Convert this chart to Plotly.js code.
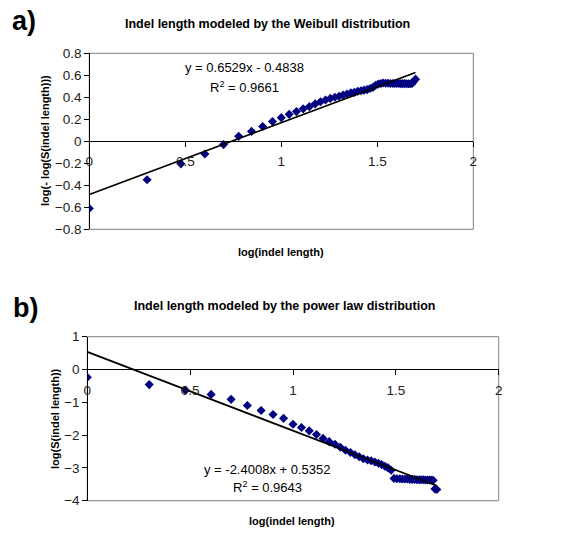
<!DOCTYPE html>
<html>
<head>
<meta charset="utf-8">
<script src="https://cdn.plot.ly/plotly-3.0.1.min.js"></script>
<style>html,body{margin:0;padding:0;background:#fff}#chart{width:561px;height:542px}</style>
</head>
<body>
<div id="chart"></div>
<script>
// log10 of indel length (1..50)
const logLength = [0, 0.301, 0.477, 0.602, 0.699, 0.778, 0.845, 0.903, 0.954, 1.000,
  1.041, 1.079, 1.114, 1.146, 1.176, 1.204, 1.230, 1.255, 1.279, 1.301,
  1.322, 1.342, 1.362, 1.380, 1.398, 1.415, 1.431, 1.447, 1.462, 1.477,
  1.491, 1.505, 1.519, 1.531, 1.544, 1.556, 1.568, 1.580, 1.591, 1.602,
  1.613, 1.623, 1.633, 1.643, 1.653, 1.663, 1.672, 1.681, 1.690, 1.699];

// a) log(-log(S(indel length)))
const weibullY = [-0.61, -0.35, -0.205, -0.115, -0.03, 0.045, 0.09, 0.135, 0.18, 0.215,
  0.245, 0.27, 0.295, 0.315, 0.34, 0.36, 0.375, 0.39, 0.40, 0.41,
  0.42, 0.43, 0.44, 0.445, 0.455, 0.46, 0.465, 0.47, 0.48, 0.49,
  0.51, 0.52, 0.525, 0.53, 0.528, 0.527, 0.526, 0.526, 0.525, 0.525,
  0.525, 0.524, 0.524, 0.524, 0.523, 0.523, 0.523, 0.525, 0.545, 0.565];

// b) log(S(indel length))
const powerY = [-0.24, -0.46, -0.63, -0.76, -0.91, -1.10, -1.25, -1.37, -1.49, -1.67,
  -1.77, -1.87, -1.98, -2.10, -2.20, -2.28, -2.37, -2.46, -2.53, -2.60,
  -2.66, -2.72, -2.76, -2.78, -2.82, -2.86, -2.90, -2.95, -3.00, -3.07,
  -3.32, -3.33, -3.33, -3.34, -3.34, -3.34, -3.35, -3.35, -3.35, -3.36,
  -3.36, -3.36, -3.36, -3.37, -3.37, -3.37, -3.37, -3.38, -3.64, -3.66];

const fitA = {slope: 0.6529, intercept: -0.4838, r2: '0.9661'};
const fitB = {slope: -2.4008, intercept: 0.5352, r2: '0.9643'};

const titleA = 'Indel length modeled by the Weibull distribution';
const titleB = 'Indel length modeled by the power law distribution';
const yTitleA = 'log(- log(S(indel length)))';
const yTitleB = 'log(S(indel length))';
const xTitle = 'log(indel length)';

const xFitEnds = [Math.min(...logLength), Math.max(...logLength)];
const navy = '#000080';
const font = 'Liberation Sans, Arial, sans-serif';

const traces = [
  {x: logLength, y: weibullY, xaxis: 'x', yaxis: 'y', mode: 'markers', type: 'scatter',
   marker: {symbol: 'diamond', size: 7, color: navy}},
  {x: xFitEnds, y: xFitEnds.map(v => fitA.slope * v + fitA.intercept), xaxis: 'x', yaxis: 'y',
   mode: 'lines', type: 'scatter', line: {color: '#000', width: 1.8}},
  {x: logLength, y: powerY, xaxis: 'x2', yaxis: 'y2', mode: 'markers', type: 'scatter',
   marker: {symbol: 'diamond', size: 7, color: navy}},
  {x: xFitEnds, y: xFitEnds.map(v => fitB.slope * v + fitB.intercept), xaxis: 'x2', yaxis: 'y2',
   mode: 'lines', type: 'scatter', line: {color: '#000', width: 1.8}}
];

const yA = [0.5769, 0.9017], yB = [0.0762, 0.3788];
const posZero = (dom, r) => dom[0] + (dom[1] - dom[0]) * (0 - r[0]) / (r[1] - r[0]);

const xCommon = {range: [0, 2], dtick: 0.5, tick0: 0, showgrid: false, zeroline: false,
  showline: true, linecolor: '#000', linewidth: 1, ticks: 'outside', ticklen: 5, tickcolor: '#000',
  ticklabelstandoff: 3, tickfont: {family: font, size: 13.5, color: '#222'}, anchor: 'free'};
const yCommon = {showgrid: false, zeroline: false, showline: true, linecolor: '#000', linewidth: 1,
  ticks: 'outside', ticklen: 5, tickcolor: '#000', tickfont: {family: font, size: 13.5, color: '#222'}};

const rA = [-0.8, 0.8], rB = [-4, 1];

const ann = (text, x, y, opts) => Object.assign({text, x, y, xref: 'paper', yref: 'paper',
  xanchor: 'center', yanchor: 'middle', showarrow: false,
  font: {family: font, size: 13, color: '#000'}}, opts || {});
const py = p => 1 - p / 542, px = p => p / 561;

const layout = {
  width: 561, height: 542, margin: {l: 0, r: 0, t: 0, b: 0},
  paper_bgcolor: '#fff', plot_bgcolor: '#fff', showlegend: false,
  xaxis: Object.assign({}, xCommon, {domain: [0.1592, 0.8437], position: posZero(yA, rA)}),
  yaxis: Object.assign({}, yCommon, {domain: yA, range: rA, dtick: 0.2, tick0: 0, anchor: 'free', position: 0.1592}),
  xaxis2: Object.assign({}, xCommon, {domain: [0.1556, 0.8890], position: posZero(yB, rB)}),
  yaxis2: Object.assign({}, yCommon, {domain: yB, range: rB, dtick: 1, tick0: 0, anchor: 'free', position: 0.1556}),
  shapes: [
    {type: 'rect', xref: 'x domain', yref: 'y domain', x0: 0, x1: 1, y0: 0, y1: 1, line: {color: '#808080', width: 1}, layer: 'below'},
    {type: 'rect', xref: 'x2 domain', yref: 'y2 domain', x0: 0, x1: 1, y0: 0, y1: 1, line: {color: '#808080', width: 1}, layer: 'below'}
  ],
  annotations: [
    ann('a)', px(24), py(21), {font: {family: font, size: 27, color: '#000', weight: 'bold'}}),
    ann('b)', px(25), py(308), {font: {family: font, size: 27, color: '#000', weight: 'bold'}}),
    ann('<b>' + titleA + '</b>', px(267), py(24), {font: {family: font, size: 12.5, color: '#000'}}),
    ann('<b>' + titleB + '</b>', px(284), py(306), {font: {family: font, size: 12.5, color: '#000'}}),
    ann('<b>' + yTitleA + '</b>', px(45), py(141), {textangle: -90, font: {family: font, size: 11, color: '#000'}}),
    ann('<b>' + yTitleB + '</b>', px(55), py(419), {textangle: -90, font: {family: font, size: 11, color: '#000'}}),
    ann('<b>' + xTitle + '</b>', px(281), py(252), {font: {family: font, size: 11, color: '#000'}}),
    ann('<b>' + xTitle + '</b>', px(292), py(521), {font: {family: font, size: 11, color: '#000'}}),
    ann('y = ' + fitA.slope + 'x - ' + Math.abs(fitA.intercept), px(244), py(67)),
    ann('R<sup>2</sup> = ' + fitA.r2, px(244), py(87)),
    ann('y = ' + fitB.slope + 'x + ' + fitB.intercept, px(267), py(469)),
    ann('R<sup>2</sup> = ' + fitB.r2, px(267.5), py(487))
  ]
};

Plotly.newPlot('chart', traces, layout, {displayModeBar: false, staticPlot: true});
</script>
</body>
</html>
